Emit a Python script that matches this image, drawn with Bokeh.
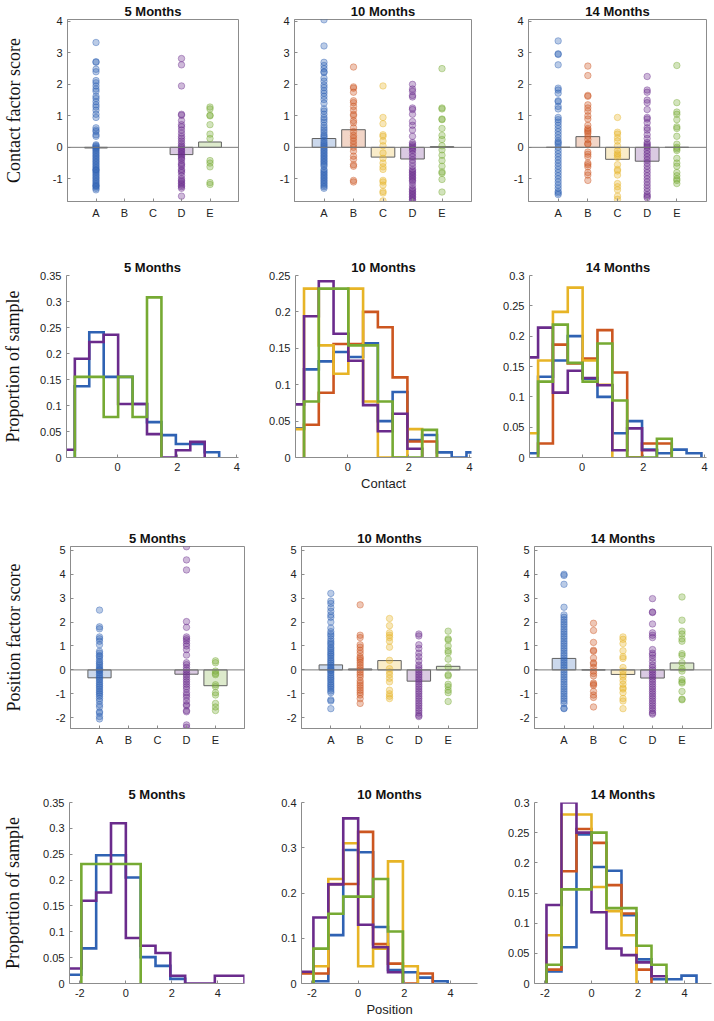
from bokeh.plotting import figure
from bokeh.layouts import column, row
from bokeh.models import Range1d, FixedTicker, Span
from bokeh.embed import file_html
from bokeh.resources import INLINE

# ------------------------------------------------------------------ data
categories = ["A", "B", "C", "D", "E"]
age_titles = ["5 Months", "10 Months", "14 Months"]
cat_colors = ["#2F62B3", "#CC5620", "#E7B426", "#6A2B8C", "#76AA33"]
N = None

# Row 1: contact factor scores (individual infants) and group means
contact_5_A = [3.33, 2.72, 2.70, 2.48, 2.40, 2.12, 2.05, 1.95, 1.85, 1.78, 1.62, 1.55, 1.45, 1.35,
               1.28, 1.18, 1.05, 0.95, 0.62, 0.55, 0.50, 0.40, 0.35, 0.08, 0.05, 0.02, -0.02, -0.05,
               -0.10, -0.15, -0.20, -0.25, -0.30, -0.35, -0.40, -0.45, -0.50, -0.55, -0.60, -0.65,
               -0.70, -0.72, -0.75, -0.80, -0.85, -0.90, -0.95, -1.00, -1.05, -1.10, -1.15, -1.20,
               -1.22, -1.25, -1.30, -1.35]
contact_5_B = []
contact_5_C = []
contact_5_D = [2.82, 2.62, 1.95, 1.05, 1.02, 0.85, 0.72, 0.65, 0.55, 0.45, 0.35, 0.28, 0.20, 0.12,
               0.05, 0.00, -0.05, -0.10, -0.15, -0.20, -0.25, -0.30, -0.35, -0.40, -0.50, -0.55,
               -0.60, -0.70, -0.75, -0.80, -0.90, -1.00, -1.05, -1.10, -1.15, -1.20, -1.25, -1.30, -1.55]
contact_5_E = [1.28, 1.22, 1.02, 1.00, 0.72, 0.42, 0.28, -0.42, -0.50, -0.62, -1.12, -1.18]
contact_5_mean = [-0.02, N, N, -0.23, 0.17]

contact_10_A = [4.05, 3.22, 2.70, 2.60, 2.50, 2.40, 2.38, 2.20, 2.10, 1.98, 1.90, 1.80, 1.72, 1.62,
                1.52, 1.40, 1.22, 1.15, 1.05, 0.95, 0.88, 0.80, 0.70, 0.62, 0.55, 0.48, 0.40, 0.35,
                0.30, 0.22, 0.15, 0.10, 0.05, 0.00, -0.05, -0.10, -0.15, -0.20, -0.25, -0.30, -0.35,
                -0.40, -0.45, -0.50, -0.55, -0.60, -0.70, -0.75, -0.80, -0.85, -0.90, -0.95, -1.00,
                -1.05, -1.10, -1.15, -1.20, -1.25, -1.30]
contact_10_B = [2.55, 1.92, 1.88, 1.75, 1.48, 1.42, 1.30, 1.18, 1.05, 1.00, 0.85, 0.78, 0.62, 0.50,
                0.38, 0.30, 0.20, 0.10, 0.00, -0.12, -0.28, -0.38, -0.55, -0.60, -1.05, -1.10]
contact_10_C = [1.95, 0.95, 0.75, 0.40, 0.35, 0.20, 0.05, -0.18, -0.35, -0.50, -0.62, -0.70, -1.05,
                -1.10, -1.20, -1.40, -1.45, -1.70]
contact_10_D = [2.00, 1.85, 1.78, 1.65, 1.60, 1.25, 1.20, 1.05, 0.82, 0.70, 0.55, 0.35, 0.15, 0.10,
                0.05, 0.00, -0.05, -0.10, -0.20, -0.30, -0.40, -0.50, -0.60, -0.70, -0.75, -0.80,
                -0.85, -0.90, -0.95, -1.00, -1.05, -1.10, -1.20, -1.30, -1.35, -1.40, -1.45, -1.50,
                -1.55, -1.60, -1.65, -1.70]
contact_10_E = [2.50, 1.25, 1.22, 0.90, 0.88, 0.60, 0.38, 0.25, 0.05, -0.08, -0.25, -0.42, -0.60,
                -0.78, -0.82, -1.02, -1.42]
contact_10_mean = [0.28, 0.56, -0.31, -0.37, 0.02]

contact_14_A = [3.38, 2.97, 2.95, 2.62, 1.88, 1.82, 1.72, 1.48, 1.45, 1.30, 1.22, 0.95, 0.88, 0.80,
                0.70, 0.60, 0.50, 0.40, 0.30, 0.20, 0.15, 0.10, 0.00, -0.10, -0.20, -0.30, -0.40,
                -0.50, -0.60, -0.70, -0.80, -0.90, -1.00, -1.10, -1.20, -1.30, -1.40, -1.45, -1.50]
contact_14_B = [2.58, 2.28, 1.65, 1.62, 1.35, 1.25, 1.15, 1.00, 0.90, 0.70, 0.60, 0.55, 0.50, 0.45,
                0.35, 0.25, 0.12, 0.10, -0.15, -0.22, -0.30, -0.50, -0.55, -0.62, -0.80, -0.88, -1.05]
contact_14_C = [0.95, 0.48, 0.42, 0.30, 0.20, 0.05, -0.10, -0.20, -0.25, -0.32, -0.55, -0.70, -0.75,
                -0.88, -1.15, -1.25, -1.35, -1.55, -1.65]
contact_14_D = [2.25, 1.82, 1.75, 1.50, 1.42, 1.20, 0.95, 0.90, 0.78, 0.62, 0.55, 0.40, 0.28, 0.15,
                0.10, 0.05, 0.00, -0.10, -0.20, -0.30, -0.40, -0.50, -0.60, -0.70, -0.80, -0.90,
                -1.00, -1.10, -1.20, -1.30, -1.40, -1.50, -1.55, -1.60]
contact_14_E = [2.60, 1.42, 1.12, 1.05, 0.88, 0.65, 0.60, 0.35, 0.10, 0.00, -0.05, -0.10, -0.35,
                -0.50, -0.60, -0.80, -0.90, -1.00, -1.05, -1.15]
contact_14_mean = [0.0, 0.34, -0.38, -0.44, 0.0]

# Row 3: position factor scores and group means
position_5_A = [2.50, 1.80, 1.72, 1.38, 1.30, 1.20, 1.05, 0.78, 0.70, 0.60, 0.55, 0.45, 0.35, 0.28,
                0.20, 0.12, 0.05, 0.00, -0.05, -0.12, -0.20, -0.28, -0.35, -0.42, -0.50, -0.58,
                -0.65, -0.72, -0.80, -0.88, -0.95, -1.02, -1.10, -1.20, -1.30, -1.45, -1.55, -1.75,
                -1.80, -1.95, -2.05]
position_5_B = []
position_5_C = []
position_5_D = [5.15, 4.60, 4.18, 2.02, 1.78, 1.38, 1.30, 1.22, 1.10, 1.00, 0.85, 0.62, 0.30, 0.22,
                0.10, 0.00, -0.10, -0.20, -0.30, -0.40, -0.50, -0.60, -0.70, -0.80, -0.95, -1.05,
                -1.15, -1.30, -1.45, -1.50, -1.70, -1.75, -2.30, -2.40]
position_5_E = [0.38, 0.30, -0.05, -0.15, -0.20, -0.62, -0.70, -0.95, -1.05, -1.40, -1.55, -1.70]
position_5_mean = [-0.33, N, N, -0.18, -0.66]

position_10_A = [3.20, 2.88, 2.78, 2.60, 2.45, 2.30, 2.20, 2.00, 1.75, 1.60, 1.50, 1.42, 1.30, 1.20,
                 1.12, 1.05, 0.95, 0.88, 0.80, 0.72, 0.65, 0.58, 0.50, 0.42, 0.35, 0.28, 0.20, 0.12,
                 0.05, 0.00, -0.05, -0.12, -0.20, -0.28, -0.35, -0.42, -0.50, -0.58, -0.65, -0.72,
                 -0.80, -0.88, -0.95, -1.25, -1.30, -1.62]
position_10_B = [2.72, 1.45, 1.35, 1.05, 0.95, 0.82, 0.70, 0.55, 0.48, 0.40, 0.30, 0.20, 0.10, 0.00,
                 -0.10, -0.20, -0.30, -0.45, -0.55, -0.65, -0.75, -0.85, -0.95, -1.05, -1.20, -1.40]
position_10_C = [2.15, 1.85, 1.55, 1.45, 1.35, 1.20, 0.95, 0.40, 0.05, -0.08, -0.20, -0.35, -0.50,
                 -0.85, -1.00, -1.10, -1.20]
position_10_D = [1.50, 1.42, 1.05, 0.90, 0.70, 0.55, 0.38, 0.20, 0.10, 0.00, -0.10, -0.20, -0.30,
                 -0.40, -0.50, -0.60, -0.70, -0.80, -0.90, -1.00, -1.10, -1.20, -1.30, -1.40, -1.50,
                 -1.60, -1.70, -1.80, -1.90, -1.95]
position_10_E = [1.62, 1.30, 1.25, 1.00, 0.80, 0.72, 0.45, 0.12, -0.20, -0.25, -0.60, -0.70, -0.85,
                 -0.95, -1.32]
position_10_mean = [0.21, 0.04, 0.39, -0.47, 0.15]

position_14_A = [4.00, 3.95, 3.58, 2.62, 2.30, 2.20, 2.10, 2.00, 1.90, 1.80, 1.70, 1.60, 1.50, 1.40,
                 1.30, 1.20, 1.10, 1.00, 0.90, 0.80, 0.70, 0.60, 0.50, 0.40, 0.30, 0.20, 0.10, 0.00,
                 -0.10, -0.20, -0.30, -0.40, -0.50, -0.60, -0.70, -0.80, -0.90, -1.00, -1.10, -1.20,
                 -1.30, -1.40, -1.60, -1.62]
position_14_B = [1.95, 1.65, 1.15, 0.82, 0.78, 0.50, 0.30, 0.25, 0.10, -0.05, -0.15, -0.25, -0.55,
                 -0.60, -0.65, -0.90, -1.05, -1.15, -1.55]
position_14_C = [1.38, 1.28, 1.10, 0.80, 0.55, 0.48, 0.10, -0.05, -0.20, -0.30, -0.45, -0.60, -0.75,
                 -0.80, -0.95, -1.20, -1.30, -1.62]
position_14_D = [2.98, 2.42, 2.40, 1.92, 1.55, 1.45, 1.35, 0.85, 0.70, 0.62, 0.50, 0.35, 0.20, 0.10,
                 0.00, -0.10, -0.20, -0.30, -0.40, -0.50, -0.60, -0.70, -0.80, -0.90, -1.00, -1.10,
                 -1.20, -1.30, -1.40, -1.50, -1.60, -1.70, -1.80, -1.85]
position_14_E = [3.05, 2.08, 1.62, 1.50, 1.30, 1.20, 0.68, 0.60, 0.30, 0.05, -0.05, -0.40, -0.50,
                 -0.55, -0.90, -1.22, -1.25]
position_14_mean = [0.48, 0.0, -0.19, -0.34, 0.29]

# Row 2: histograms of contact scores (proportion of sample per bin; None = outside data)
contact_bin_edges = [-1.925, -1.44, -0.955, -0.47, 0.015, 0.5, 0.985, 1.47, 1.955, 2.44, 2.925,
                     3.41, 3.895, 4.38]
hist_contact_5_A = [N, 0.137, 0.241, 0.155, 0.155, 0.103, 0.068, 0.043, 0.026, 0.026, 0.010, N, N]
hist_contact_5_D = [0.015, 0.19, 0.222, 0.236, 0.103, 0.103, 0.045, 0.0, 0.014, 0.03, N, N, N]
hist_contact_5_E = [N, 0.155, 0.155, 0.078, 0.155, 0.078, 0.308, N, N, N, N, N, N]
hist_contact_10_A = [0.04, 0.121, 0.132, 0.145, 0.138, 0.157, 0.05, 0.09, 0.024, 0.031, 0.007, 0.0, 0.007]
hist_contact_10_B = [N, 0.045, 0.089, 0.156, 0.156, 0.2, 0.179, 0.11, 0.022, 0.022, N, N, N]
hist_contact_10_C = [0.039, 0.232, 0.154, 0.115, 0.232, 0.077, 0.0, 0.0, 0.039, N, N, N, N]
hist_contact_10_D = [0.073, 0.194, 0.242, 0.17, 0.133, 0.072, 0.036, 0.06, 0.012, N, N, N, N]
hist_contact_10_E = [N, 0.077, 0.232, 0.232, 0.154, 0.154, 0.077, 0.0, 0.0, 0.038, N, N, N]
hist_contact_14_A = [0.007, 0.133, 0.16, 0.2, 0.13, 0.1, 0.04, 0.06, 0.013, 0.007, 0.013, 0.007, N]
hist_contact_14_B = [N, 0.023, 0.186, 0.155, 0.163, 0.21, 0.14, 0.0, 0.023, 0.023, N, N, N]
hist_contact_14_C = [0.04, 0.16, 0.24, 0.28, 0.16, 0.12, N, N, N, N, N, N, N]
hist_contact_14_D = [0.165, 0.214, 0.107, 0.143, 0.131, 0.119, 0.012, 0.048, 0.012, N, N, N, N]
hist_contact_14_E = [N, 0.125, 0.219, 0.156, 0.125, 0.188, 0.094, 0.0, 0.0, 0.031, N, N, N]

# Row 4: histograms of position scores
position_bin_edges = [-2.58, -1.935, -1.29, -0.645, 0.0, 0.645, 1.29, 1.935, 2.58, 3.225, 3.87,
                      4.515, 5.16]
hist_position_5_A = [0.017, 0.068, 0.248, 0.248, 0.205, 0.051, 0.034, 0.009, N, N, N, N]
hist_position_5_D = [0.029, 0.16, 0.176, 0.31, 0.088, 0.073, 0.059, 0.015, 0.0, 0.0, 0.015, 0.015]
hist_position_5_E = [N, 0.231, 0.231, 0.231, 0.231, N, N, N, N, N, N, N]
hist_position_10_A = [N, 0.005, 0.107, 0.295, 0.29, 0.125, 0.03, 0.025, 0.013, 0.005, N, N]
hist_position_10_B = [0.022, 0.022, 0.22, 0.22, 0.335, 0.087, 0.044, 0.0, 0.022, N, N, N]
hist_position_10_C = [N, 0.038, 0.231, 0.31, 0.038, 0.077, 0.27, 0.038, N, N, N, N]
hist_position_10_D = [0.026, 0.146, 0.219, 0.365, 0.13, 0.08, 0.025, N, N, N, N, N]
hist_position_10_E = [N, 0.077, 0.154, 0.192, 0.192, 0.231, 0.115, N, N, N, N, N]
hist_position_14_A = [N, 0.02, 0.06, 0.247, 0.193, 0.187, 0.113, 0.04, 0.007, 0.007, 0.013, N]
hist_position_14_B = [N, 0.023, 0.186, 0.256, 0.233, 0.163, 0.116, 0.023, N, N, N, N]
hist_position_14_C = [N, 0.08, 0.28, 0.28, 0.16, 0.12, 0.08, N, N, N, N, N]
hist_position_14_D = [N, 0.13, 0.3, 0.25, 0.118, 0.058, 0.047, 0.035, 0.012, N, N, N]
hist_position_14_E = [N, 0.031, 0.156, 0.156, 0.25, 0.125, 0.125, 0.0625, 0.031, N, N, N]

# axis ticks / labels
cat_ticks = [1, 2, 3, 4, 5]
contact_score_ticks = [-1, 0, 1, 2, 3, 4]
position_score_ticks = [-2, -1, 0, 1, 2, 3, 4, 5]
contact_x_ticks = [0, 2, 4]
position_x_ticks = [-2, 0, 2, 4]
prop_ticks_035 = [0, 0.05, 0.1, 0.15, 0.2, 0.25, 0.3, 0.35]
prop_labels_035 = ["0", "0.05", "0.1", "0.15", "0.2", "0.25", "0.3", "0.35"]
prop_ticks_025 = [0, 0.05, 0.1, 0.15, 0.2, 0.25]
prop_labels_025 = ["0", "0.05", "0.1", "0.15", "0.2", "0.25"]
prop_ticks_03 = [0, 0.05, 0.1, 0.15, 0.2, 0.25, 0.3]
prop_labels_03 = ["0", "0.05", "0.1", "0.15", "0.2", "0.25", "0.3"]
prop_ticks_04 = [0, 0.1, 0.2, 0.3, 0.4]
prop_labels_04 = ["0", "0.1", "0.2", "0.3", "0.4"]

# ------------------------------------------------------------------ styling / layout
GRAY = "#8c8c8c"
SANS = "Liberation Sans"
SERIF = "Liberation Serif"

# (figure width, min border left, min border right)
col_w_top = [(266, 62, 28), (234, 28, 29), (214, 28, 8)]
col_w_bot = [(272, 68, 28), (233, 29, 28), (209, 29, 3)]
# (figure height, min border top, min border bottom)
row_h = [(256, 17, 55), (271, 18, 70), (256, 17, 55), (237, 17, 37)]


def base_fig(colspec, rowspec, xr, yr, title):
    w, bl, br = colspec
    h, bt, bb = rowspec
    p = figure(width=w, height=h, x_range=Range1d(xr[0], xr[1]), y_range=Range1d(yr[0], yr[1]),
               output_backend="svg", toolbar_location=None,
               min_border_left=bl, min_border_right=br, min_border_top=bt, min_border_bottom=bb)
    p.xgrid.visible = False
    p.ygrid.visible = False
    p.title.text = title
    p.title.align = "center"
    p.title.text_font = SANS
    p.title.text_font_style = "bold"
    p.title.text_font_size = "13px"
    p.title.text_color = "#111111"
    p.title.standoff = 2
    for ax in (p.xaxis[0], p.yaxis[0]):
        ax.major_tick_in = 3
        ax.major_tick_out = 0
        ax.minor_tick_line_color = None
        ax.major_tick_line_color = GRAY
        ax.axis_line_color = GRAY
        ax.major_label_text_font = SANS
        ax.major_label_text_font_size = "11px"
        ax.major_label_text_color = "#222222"
        ax.major_label_standoff = 5
    return p


def set_ticks(axis, ticks, labels):
    axis.ticker = FixedTicker(ticks=ticks)
    axis.major_label_overrides = {t: l for t, l in zip(ticks, labels)}


def ylabel(p, text, standoff):
    ax = p.yaxis[0]
    ax.axis_label = text
    ax.axis_label_text_font = SERIF
    ax.axis_label_text_font_style = "normal"
    ax.axis_label_text_font_size = "18px"
    ax.axis_label_text_color = "#111111"
    ax.axis_label_standoff = standoff


def xlabel(p, text):
    p.xaxis.axis_label = text
    p.xaxis.axis_label_text_font = SANS
    p.xaxis.axis_label_text_font_style = "normal"
    p.xaxis.axis_label_text_font_size = "13px"
    p.xaxis.axis_label_text_color = "#222222"
    p.xaxis.axis_label_standoff = 2


def strip_fig(colspec, rowspec, yr, yticks, pts, means, title):
    p = base_fig(colspec, rowspec, (0, 6), yr, title)
    p.outline_line_color = GRAY
    p.outline_line_width = 1
    set_ticks(p.xaxis[0], cat_ticks, categories)
    set_ticks(p.yaxis[0], yticks, [str(t) for t in yticks])
    bx = [i + 1 for i, m in enumerate(means) if m is not None]
    bt = [m for m in means if m is not None]
    bc = [cat_colors[i] for i, m in enumerate(means) if m is not None]
    p.vbar(x=bx, top=bt, bottom=0, width=0.8, fill_color=bc, fill_alpha=0.25,
           line_color="#606060", line_width=1)
    p.add_layout(Span(location=0, dimension="width", line_color="#7a7a7a", line_width=1))
    for i, vals in enumerate(pts):
        if vals:
            p.scatter(x=[i + 1] * len(vals), y=vals, size=6.5, marker="circle",
                      fill_color=cat_colors[i], fill_alpha=0.33,
                      line_color=cat_colors[i], line_alpha=0.4, line_width=1)
    return p


def stairs_xy(edges, vals):
    idx = [i for i, v in enumerate(vals) if v is not None]
    xs, ys = [edges[idx[0]]], [0.0]
    for i in idx:
        xs += [edges[i], edges[i + 1]]
        ys += [vals[i], vals[i]]
    xs.append(edges[idx[-1] + 1])
    ys.append(0.0)
    return xs, ys


def hist_fig(colspec, rowspec, xr, yr, xticks, yticks, ylabels, edges, series, title):
    p = base_fig(colspec, rowspec, xr, yr, title)
    p.outline_line_color = None
    set_ticks(p.xaxis[0], xticks, [str(t) for t in xticks])
    set_ticks(p.yaxis[0], yticks, ylabels)
    for ci, vals in series:
        xs, ys = stairs_xy(edges, vals)
        p.line(xs, ys, line_color=cat_colors[ci], line_width=2.6, line_join="miter")
    return p


# ------------------------------------------------------------------ build panels
contact_pts = [
    [contact_5_A, contact_5_B, contact_5_C, contact_5_D, contact_5_E],
    [contact_10_A, contact_10_B, contact_10_C, contact_10_D, contact_10_E],
    [contact_14_A, contact_14_B, contact_14_C, contact_14_D, contact_14_E],
]
contact_means = [contact_5_mean, contact_10_mean, contact_14_mean]
position_pts = [
    [position_5_A, position_5_B, position_5_C, position_5_D, position_5_E],
    [position_10_A, position_10_B, position_10_C, position_10_D, position_10_E],
    [position_14_A, position_14_B, position_14_C, position_14_D, position_14_E],
]
position_means = [position_5_mean, position_10_mean, position_14_mean]

contact_hists = [
    [(0, hist_contact_5_A), (3, hist_contact_5_D), (4, hist_contact_5_E)],
    [(0, hist_contact_10_A), (1, hist_contact_10_B), (2, hist_contact_10_C),
     (3, hist_contact_10_D), (4, hist_contact_10_E)],
    [(0, hist_contact_14_A), (1, hist_contact_14_B), (2, hist_contact_14_C),
     (3, hist_contact_14_D), (4, hist_contact_14_E)],
]
position_hists = [
    [(0, hist_position_5_A), (3, hist_position_5_D), (4, hist_position_5_E)],
    [(0, hist_position_10_A), (1, hist_position_10_B), (2, hist_position_10_C),
     (3, hist_position_10_D), (4, hist_position_10_E)],
    [(0, hist_position_14_A), (1, hist_position_14_B), (2, hist_position_14_C),
     (3, hist_position_14_D), (4, hist_position_14_E)],
]

contact_yr = (-1.72, 4.06)
position_yr = (-2.45, 5.16)
contact_prop = [(0.35, prop_ticks_035, prop_labels_035), (0.25, prop_ticks_025, prop_labels_025),
                (0.3, prop_ticks_03, prop_labels_03)]
position_prop = [(0.35, prop_ticks_035, prop_labels_035), (0.4, prop_ticks_04, prop_labels_04),
                 (0.3, prop_ticks_03, prop_labels_03)]

row1, row2, row3, row4 = [], [], [], []
for k in range(3):
    p1 = strip_fig(col_w_top[k], row_h[0], contact_yr, contact_score_ticks,
                   contact_pts[k], contact_means[k], age_titles[k])
    ymax, yt, yl = contact_prop[k]
    p2 = hist_fig(col_w_top[k], row_h[1], contact_yr, (0, ymax), contact_x_ticks, yt, yl,
                  contact_bin_edges, contact_hists[k], age_titles[k])
    p3 = strip_fig(col_w_bot[k], row_h[2], position_yr, position_score_ticks,
                   position_pts[k], position_means[k], age_titles[k])
    ymax, yt, yl = position_prop[k]
    p4 = hist_fig(col_w_bot[k], row_h[3], position_yr, (0, ymax), position_x_ticks, yt, yl,
                  position_bin_edges, position_hists[k], age_titles[k])
    if k == 0:
        ylabel(p1, "Contact factor score", 26)
        ylabel(p2, "Proportion of sample", 14)
        ylabel(p3, "Position factor score", 29)
        ylabel(p4, "Proportion of sample", 17)
    if k == 1:
        xlabel(p2, "Contact")
        xlabel(p4, "Position")
    row1.append(p1)
    row2.append(p2)
    row3.append(p3)
    row4.append(p4)

layout = column(row(row1, spacing=0), row(row2, spacing=0), row(row3, spacing=0),
                row(row4, spacing=0), spacing=0)

open("out.html", "w").write(file_html(layout, INLINE))
